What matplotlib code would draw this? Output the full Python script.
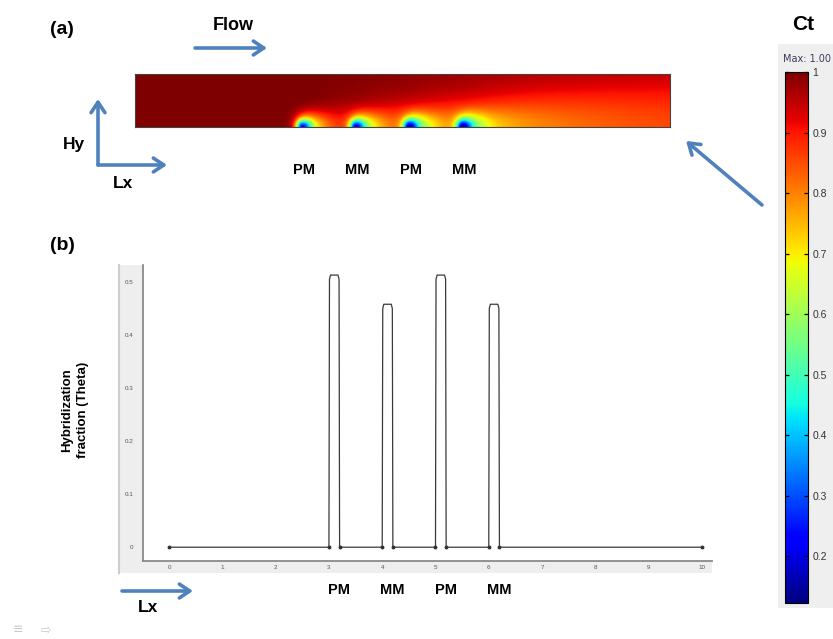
import numpy as np
import matplotlib
matplotlib.use("Agg")
import matplotlib.pyplot as plt
from matplotlib.patches import Rectangle
from matplotlib.cm import ScalarMappable
from matplotlib.colors import Normalize

plt.rcParams['font.family'] = ['Liberation Sans', 'DejaVu Sans']

# ---- data ----
# probe spots along the channel floor (Lx units)
spot_start = [3.0, 4.0, 5.0, 6.0]
spot_end = [3.2, 4.2, 5.2, 6.2]
spot_names = ["PM", "MM", "PM", "MM"]
# hybridization fraction on each spot
spot_theta = [0.513, 0.458, 0.513, 0.458]
# channel extent
channel_len = 10.0
# concentration depletion at spot centres, around them, in the near wake and far downstream
spot_core_depletion = [0.64, 0.64, 0.70, 0.70]
halo_depletion = [0.22, 0.22, 0.24, 0.24]
wake_depletion = [0.32, 0.32, 0.32, 0.32]
far_depletion = [0.018, 0.018, 0.018, 0.018]
ct_min, ct_max = 0.123, 1.0
cbar_ticks = [0.2, 0.3, 0.4, 0.5, 0.6, 0.7, 0.8, 0.9, 1.0]
cbar_labels = ["0.2", "0.3", "0.4", "0.5", "0.6", "0.7", "0.8", "0.9", "1"]
x_ticks = list(range(0, 11))
y_ticks = [0, 0.1, 0.2, 0.3, 0.4, 0.5]
y_tick_labels = ["0", "0.1", "0.2", "0.3", "0.4", "0.5"]

W, H = 833, 639
fig = plt.figure(figsize=(W / 100, H / 100), dpi=100)
fig.patch.set_facecolor("white")


def px_axes(x0, y0, x1, y1, **kw):
    return fig.add_axes([x0 / W, 1 - y1 / H, (x1 - x0) / W, (y1 - y0) / H], **kw)


# background layer for grey panels
bg = px_axes(0, 0, W, H, zorder=-5)
bg.set_xlim(0, W); bg.set_ylim(H, 0); bg.axis("off")
bg.add_patch(Rectangle((778, 44), 60, 564, color="#efefef", lw=0))
bg.add_patch(Rectangle((118, 265), 594, 308, color="#eeeeee", lw=0))
bg.plot([119, 119], [265, 573], color="#cdcdcd", lw=1.5)

# ---- (a) concentration field in the channel ----
nx, ny = 1000, 120
xg = np.linspace(0, channel_len, nx)
yg = np.linspace(0, 1, ny)
X, Y = np.meshgrid(xg, yg)
Ct = np.ones_like(X)
for a, b, core, halo_d, wake, far in zip(spot_start, spot_end, spot_core_depletion,
                                         halo_depletion, wake_depletion, far_depletion):
    xc = 0.5 * (a + b) + 0.02
    s = X - xc
    sig_x = np.where(s < 0, 0.07, 0.11)
    blob = core * np.exp(-(s ** 2 / (2 * sig_x ** 2) + Y ** 2 / (2 * 0.085 ** 2)))
    sig_h = np.where(s < 0, 0.12, 0.28)
    halo = halo_d * np.exp(-(s ** 2 / (2 * sig_h ** 2) + Y ** 2 / (2 * 0.17 ** 2)))
    sp = np.clip(s, 0, None)
    sig_t2 = 0.15 ** 2 + 0.06 * sp
    onset = 1 / (1 + np.exp(-s / 0.04))
    tail = wake * (0.15 ** 2 / sig_t2) * np.exp(-Y ** 2 / (2 * sig_t2)) * onset
    bulk = far * (1 - np.exp(-sp / 1.5)) * np.exp(-Y ** 2 / (2 * 0.9 ** 2))
    Ct *= (1 - blob) * (1 - halo) * (1 - tail) * (1 - bulk)

axa = px_axes(135, 74, 670, 127)
axa.imshow(Ct, origin="lower", extent=[0, channel_len, 0, 1], aspect="auto",
           cmap="jet", vmin=ct_min, vmax=ct_max, interpolation="bilinear")
axa.set_xticks([]); axa.set_yticks([])
for sp_ in axa.spines.values():
    sp_.set_color("#444444"); sp_.set_linewidth(0.8)

# colour bar
cax = px_axes(785, 72, 808, 603)
sm = ScalarMappable(norm=Normalize(ct_min, ct_max), cmap="jet")
cb = fig.colorbar(sm, cax=cax)
cb.set_ticks(cbar_ticks)
cb.set_ticklabels(cbar_labels)
cb.outline.set_linewidth(0.8)
cax.tick_params(axis="y", direction="in", length=3, width=0.9, left=True, right=True,
                labelsize=7.5, labelcolor="#333333", pad=3)

# ---- (b) hybridization fraction along Lx ----
axb = px_axes(143, 265, 712, 561)
axb.set_xlim(-0.49, 10.19)
axb.set_ylim(-0.026, 0.532)
xs, ys = [0.0], [0.0]
for a, b, th in zip(spot_start, spot_end, spot_theta):
    xs += [a, a + 0.01, a + 0.03, b - 0.03, b - 0.01, b]
    ys += [0.0, th - 0.008, th, th, th - 0.008, 0.0]
xs.append(channel_len); ys.append(0.0)
axb.plot(xs, ys, color="#3a3a3a", lw=0.9)
ends_x = [0.0] + [v for pair in zip(spot_start, spot_end) for v in pair] + [channel_len]
axb.plot(ends_x, [0.0] * len(ends_x), ls="none", marker="o", ms=1.8, color="#333333")
for side in ["top", "right"]:
    axb.spines[side].set_visible(False)
for side in ["left", "bottom"]:
    axb.spines[side].set_color("#8a8a8a"); axb.spines[side].set_linewidth(1.3)
axb.set_xticks(x_ticks)
axb.set_xticklabels([str(t) for t in x_ticks])
axb.set_yticks(y_ticks)
axb.set_yticklabels(y_tick_labels)
axb.tick_params(length=0, labelsize=4.5, labelcolor="#555555")
axb.tick_params(axis="y", pad=7)
axb.tick_params(axis="x", pad=3)

# ---- annotation layer ----
ov = px_axes(0, 0, W, H, zorder=10)
ov.set_xlim(0, W); ov.set_ylim(H, 0); ov.axis("off")
blue = "#4f81bd"
aprops = dict(arrowstyle="->,head_length=0.75,head_width=0.5", color=blue, lw=2.6,
              shrinkA=0, shrinkB=0, mutation_scale=10)


def arrow(x0, y0, x1, y1):
    ov.annotate("", xy=(x1, y1), xytext=(x0, y0), arrowprops=aprops)


arrow(195, 48, 267, 48)
arrow(98, 165, 98, 99)
arrow(98, 165, 167, 165)
arrow(762, 205, 686, 141)
arrow(122, 591, 193, 591)

bold = dict(fontweight="bold", color="black", ha="center", va="center")
ov.text(62, 30, "(a)", fontsize=14, **bold)
ov.text(62, 246, "(b)", fontsize=14, **bold)
ov.text(233, 26, "Flow", fontsize=13, **bold)
ov.text(803, 25, "Ct", fontsize=15, **bold)
ov.text(74, 145, "Hy", fontsize=12.5, **bold)
ov.text(123, 184, "Lx", fontsize=12.5, **bold)
ov.text(148, 608, "Lx", fontsize=12.5, **bold)
ov.text(783, 59, "Max: 1.00", fontsize=7, color="#3c3c5a", ha="left", va="center",
        family="DejaVu Sans")

for a, b, name in zip(spot_start, spot_end, spot_names):
    xm = 0.5 * (a + b)
    # labels under the channel
    px_top = 135 + (670 - 135) * xm / channel_len
    ov.text(px_top + 3, 170, name, fontsize=10.5, **bold)
    # labels under the Lx axis of (b)
    px_bot = 143 + (712 - 143) * (xm + 0.49) / (10.19 + 0.49)
    ov.text(px_bot + 5, 590, name, fontsize=10.5, **bold)

ov.text(75, 410, "Hybridization\nfraction (Theta)", fontsize=9.5, rotation=90,
        linespacing=1.5, **bold)

ov.text(18, 630, "\u2261", fontsize=9, color="#c8c8c8", ha="center", va="center",
        family="DejaVu Sans")
ov.text(46, 630, "\u21e8", fontsize=9, color="#c8c8c8", ha="center", va="center",
        family="DejaVu Sans")

fig.savefig("out.png", dpi=100, facecolor="white")
